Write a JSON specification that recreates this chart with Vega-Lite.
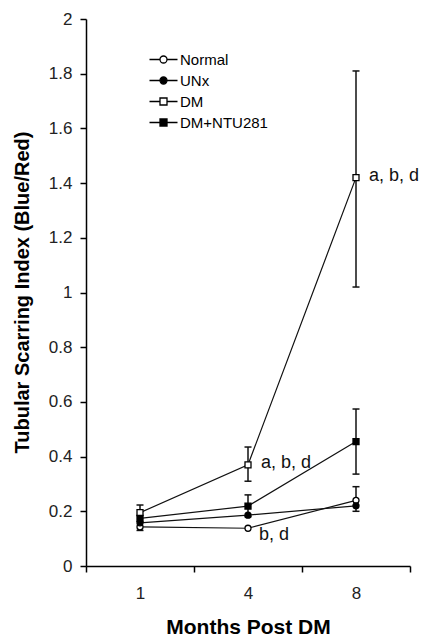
{
  "$schema": "https://vega.github.io/schema/vega-lite/v6.json",
  "autosize": "none",
  "padding": {"left": 86, "top": 19, "right": 14, "bottom": 73},
  "width": 324,
  "height": 547,
  "background": "white",
  "config": {
    "view": {"stroke": null},
    "font": "Liberation Sans",
    "axis": {
      "domainColor": "black", "domainWidth": 1.5, "tickColor": "black", "tickWidth": 1.5, "tickSize": 6,
      "labelFont": "Liberation Sans", "labelFontSize": 17, "labelColor": "#222",
      "titleFont": "Liberation Sans", "titleFontWeight": "bold", "titleColor": "black", "grid": false
    }
  },
  "datasets": {
    "means": [
      {"series": "Normal", "month": "1", "value": 0.143},
      {"series": "Normal", "month": "4", "value": 0.138},
      {"series": "Normal", "month": "8", "value": 0.24},
      {"series": "UNx", "month": "1", "value": 0.158},
      {"series": "UNx", "month": "4", "value": 0.186},
      {"series": "UNx", "month": "8", "value": 0.22},
      {"series": "DM", "month": "1", "value": 0.195},
      {"series": "DM", "month": "4", "value": 0.37},
      {"series": "DM", "month": "8", "value": 1.42},
      {"series": "DM+NTU281", "month": "1", "value": 0.174},
      {"series": "DM+NTU281", "month": "4", "value": 0.219},
      {"series": "DM+NTU281", "month": "8", "value": 0.455}
    ],
    "errors": [
      {"series": "DM+NTU281", "month": "1", "lo": 0.13, "hi": 0.223},
      {"series": "DM", "month": "4", "lo": 0.31, "hi": 0.435},
      {"series": "DM+NTU281", "month": "4", "lo": 0.18, "hi": 0.26},
      {"series": "DM", "month": "8", "lo": 1.02, "hi": 1.81},
      {"series": "DM+NTU281", "month": "8", "lo": 0.336, "hi": 0.574},
      {"series": "Normal", "month": "8", "lo": 0.2, "hi": 0.29}
    ],
    "notes": [
      {"month": "8", "value": 1.42, "label": "a, b, d", "kind": "upper"},
      {"month": "4", "value": 0.37, "label": "a, b, d", "kind": "upper"},
      {"month": "4", "value": 0.138, "label": "b, d", "kind": "lower"}
    ]
  },
  "encoding": {
    "x": {
      "field": "month", "type": "ordinal",
      "scale": {"type": "band", "domain": ["1", "4", "8"], "paddingInner": 0, "paddingOuter": 0},
      "axis": {"title": "Months Post DM", "labelAngle": 0, "tickBand": "extent", "labelPadding": 13,
               "titleFontSize": 21, "titleY": 61, "titleBaseline": "middle"}
    }
  },
  "resolve": {"scale": {"shape": "independent", "fill": "independent"}},
  "layer": [
    {
      "data": {"name": "means"},
      "mark": {"type": "line", "color": "#111", "strokeWidth": 1.2},
      "encoding": {
        "y": {"field": "value", "type": "quantitative",
              "scale": {"domain": [0, 2], "nice": false},
              "axis": {"title": "Tubular Scarring Index (Blue/Red)", "values": [0, 0.2, 0.4, 0.6, 0.8, 1, 1.2, 1.4, 1.6, 1.8, 2],
                       "format": "~g", "labelPadding": 8, "titleFontSize": 20, "titleX": -64, "titleY": 273,
                       "titleBaseline": "middle", "titleAngle": 270}},
        "detail": {"field": "series"}
      }
    },
    {
      "data": {"name": "errors"},
      "mark": {"type": "rule", "color": "#111", "strokeWidth": 1.5},
      "encoding": {"y": {"field": "lo", "type": "quantitative"}, "y2": {"field": "hi"}}
    },
    {
      "data": {"name": "errors"},
      "mark": {"type": "point", "shape": "M-1,0H1", "size": 49, "stroke": "#111", "strokeWidth": 1.5, "opacity": 1},
      "encoding": {"y": {"field": "hi", "type": "quantitative"}}
    },
    {
      "data": {"name": "errors"},
      "mark": {"type": "point", "shape": "M-1,0H1", "size": 49, "stroke": "#111", "strokeWidth": 1.5, "opacity": 1},
      "encoding": {"y": {"field": "lo", "type": "quantitative"}}
    },
    {
      "data": {"name": "means"},
      "mark": {"type": "point", "filled": true, "stroke": "black", "strokeWidth": 1.3, "opacity": 1},
      "encoding": {
        "y": {"field": "value", "type": "quantitative"},
        "shape": {"field": "series", "type": "nominal",
                  "scale": {"domain": ["Normal", "UNx", "DM", "DM+NTU281"], "range": ["circle", "circle", "square", "square"]},
                  "legend": null},
        "fill": {"field": "series", "type": "nominal",
                 "scale": {"domain": ["Normal", "UNx", "DM", "DM+NTU281"], "range": ["white", "black", "white", "black"]},
                 "legend": null},
        "size": {"field": "series", "type": "nominal",
                 "scale": {"domain": ["Normal", "UNx", "DM", "DM+NTU281"], "range": [36, 36, 60, 80]},
                 "legend": null}
      }
    },
    {
      "data": {"name": "means"},
      "transform": [{"filter": "false"}],
      "mark": {"type": "point", "filled": false, "color": "black", "strokeWidth": 1.3, "opacity": 1},
      "encoding": {
        "y": {"field": "value", "type": "quantitative"},
        "shape": {"field": "series", "type": "nominal",
                  "scale": {"domain": ["Normal", "UNx", "DM", "DM+NTU281"],
                            "range": ["M-2.8,0H-0.7M0.7,0H2.8M0.7,0A0.7,0.7,0,1,1,-0.7,0A0.7,0.7,0,1,1,0.7,0Z",
                                      "M-2.8,0H-0.7M0.7,0H2.8M0.7,0A0.7,0.7,0,1,1,-0.7,0A0.7,0.7,0,1,1,0.7,0Z",
                                      "M-2.8,0H-0.7M0.7,0H2.8M-0.7,-0.7H0.7V0.7H-0.7Z",
                                      "M-2.8,0H-0.7M0.7,0H2.8M-0.7,-0.7H0.7V0.7H-0.7Z"]},
                  "legend": {"title": null, "orient": "none", "legendX": 70, "legendY": 33, "padding": 0,
                             "symbolSize": 100, "symbolStrokeWidth": 1.3,
                             "rowPadding": 5, "labelOffset": 9, "labelFontSize": 15,
                             "labelFont": "Liberation Sans", "labelColor": "black"}},
        "fill": {"field": "series", "type": "nominal",
                 "scale": {"domain": ["Normal", "UNx", "DM", "DM+NTU281"], "range": ["white", "black", "white", "black"]},
                 "legend": {"title": null, "orient": "none", "legendX": 70, "legendY": 33, "padding": 0,
                             "symbolSize": 100, "symbolStrokeWidth": 1.3,
                             "rowPadding": 5, "labelOffset": 9, "labelFontSize": 15,
                             "labelFont": "Liberation Sans", "labelColor": "black"}}
      }
    },
    {
      "data": {"name": "notes"},
      "transform": [{"filter": "datum.kind === 'upper'"}],
      "mark": {"type": "text", "align": "left", "baseline": "middle", "dx": 13, "dy": -2, "fontSize": 18, "font": "Liberation Sans", "color": "#111"},
      "encoding": {"y": {"field": "value", "type": "quantitative"}, "text": {"field": "label"}}
    },
    {
      "data": {"name": "notes"},
      "transform": [{"filter": "datum.kind === 'lower'"}],
      "mark": {"type": "text", "align": "left", "baseline": "middle", "dx": 11, "dy": 7, "fontSize": 18, "font": "Liberation Sans", "color": "#111"},
      "encoding": {"y": {"field": "value", "type": "quantitative"}, "text": {"field": "label"}}
    }
  ]
}
